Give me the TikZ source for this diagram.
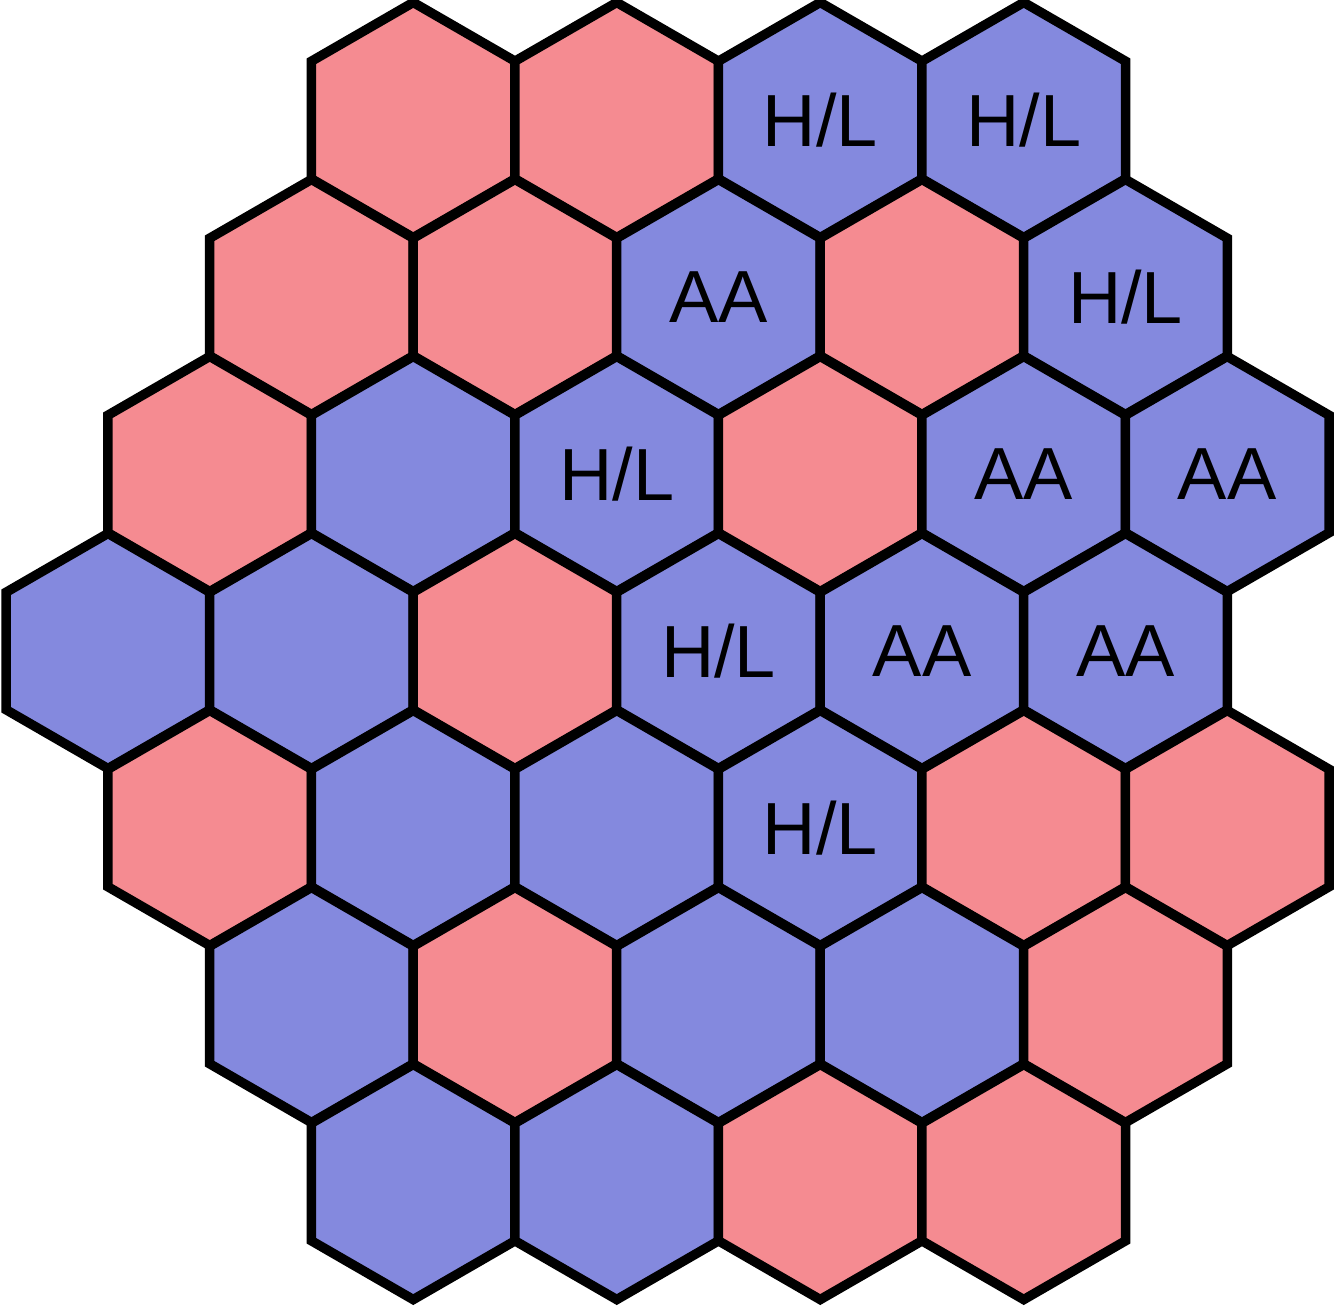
\documentclass[tikz,border=0pt]{standalone}
\usepackage{fontspec}
\setmainfont{Liberation Sans}
\usepackage{tikz}
\usetikzlibrary{shapes.geometric}
\definecolor{hexred}{RGB}{245,139,145}
\definecolor{hexblue}{RGB}{132,137,222}

\begin{document}
\begin{tikzpicture}[
  x=0.01cm,y=-0.01cm,
  hexcell/.style={regular polygon,regular polygon sides=6,shape border rotate=30,draw=black,line width=0.095cm,minimum size=2.35cm,inner sep=0pt,font=\fontsize{21}{25}\selectfont}
]
  \useasboundingbox (0,0) rectangle (1335,1306);
  % column / row / colour / label
  \foreach \j/\r/\c/\t in {
    3/0/hexred/{}, 5/0/hexred/{}, 7/0/hexblue/{H/L}, 9/0/hexblue/{H/L},
    2/1/hexred/{}, 4/1/hexred/{}, 6/1/hexblue/AA, 8/1/hexred/{}, 10/1/hexblue/{H/L},
    1/2/hexred/{}, 3/2/hexblue/{}, 5/2/hexblue/{H/L}, 7/2/hexred/{}, 9/2/hexblue/AA, 11/2/hexblue/AA,
    0/3/hexblue/{}, 2/3/hexblue/{}, 4/3/hexred/{}, 6/3/hexblue/{H/L}, 8/3/hexblue/AA, 10/3/hexblue/AA,
    1/4/hexred/{}, 3/4/hexblue/{}, 5/4/hexblue/{}, 7/4/hexblue/{H/L}, 9/4/hexred/{}, 11/4/hexred/{},
    2/5/hexblue/{}, 4/5/hexred/{}, 6/5/hexblue/{}, 8/5/hexblue/{}, 10/5/hexred/{},
    3/6/hexblue/{}, 5/6/hexblue/{}, 7/6/hexred/{}, 9/6/hexred/{}}
    \node[hexcell,fill=\c] (hex-\r-\j) at ({108+101.75*\j},{120+177*\r}) {\t};
\end{tikzpicture}
\end{document}
